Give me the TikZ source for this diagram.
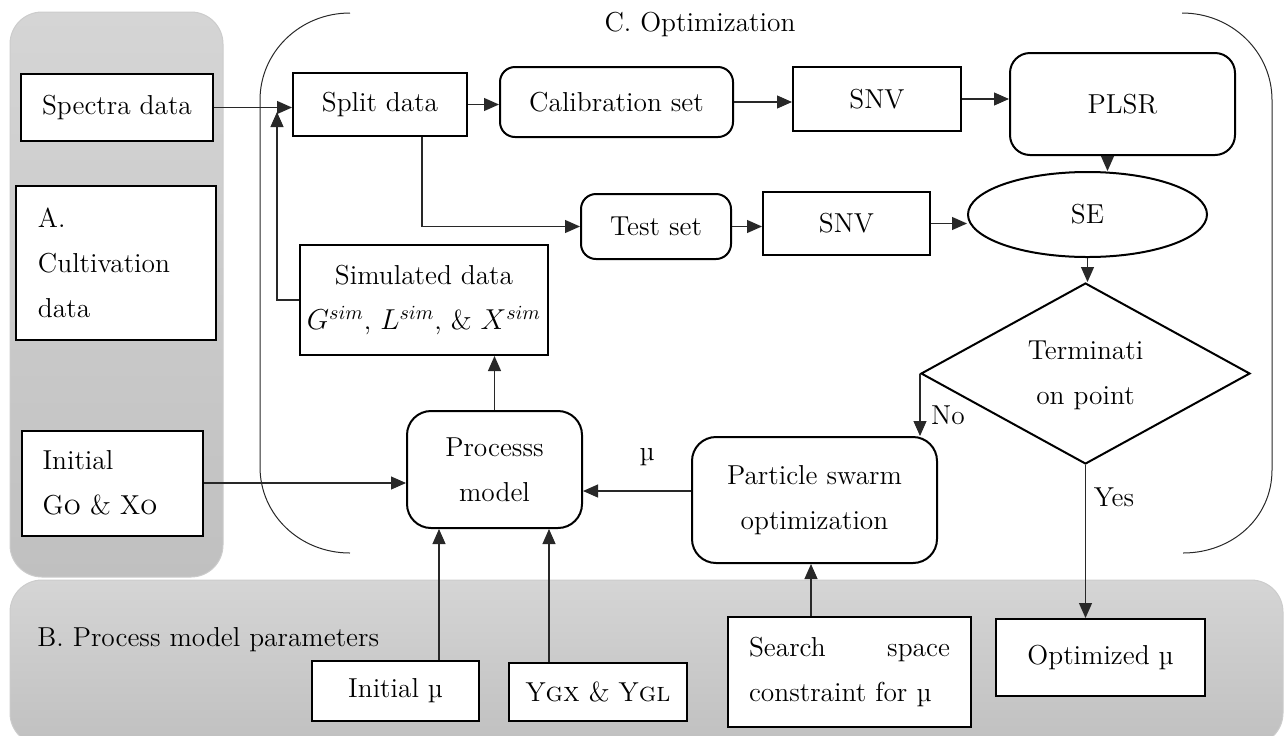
\documentclass[tikz,border=0pt]{standalone}
\usetikzlibrary{shapes.geometric,arrows.meta}
\definecolor{panelTop}{RGB}{213,213,213}
\definecolor{panelBot}{RGB}{192,192,192}
\definecolor{lineC}{RGB}{40,40,40}
\begin{document}
\begin{tikzpicture}[x=0.5pt,y=-0.5pt,
  font=\fontsize{13.7}{22.5}\selectfont,
  box/.style={draw, line width=1pt, fill=white, inner sep=0pt, align=center},
  rbox/.style={box, rounded corners=7.5pt},
  arr/.style={draw=lineC, line width=0.55pt, -{Triangle[length=7.5pt,width=6.5pt]}},
  panel/.style={rounded corners=16pt, top color=panelTop, bottom color=panelBot, draw=gray!40, line width=0.5pt},
  bracket/.style={draw=lineC, line width=0.5pt},
  lbl/.style={inner sep=0pt}]
\useasboundingbox (0,0) rectangle (1285,735);
% panels
\path[panel] (10,12) rectangle (223,577);
\path[panel] (10,580) rectangle (1283,745);
% optimization brackets
\draw[bracket] (350,13) .. controls (300,13) and (260,52) .. (260,100) -- (260,467) .. controls (260,515) and (300,553) .. (350,553);
\draw[bracket] (1182,13) .. controls (1232,13) and (1272,52) .. (1272,100) -- (1272,470) .. controls (1272,518) and (1232,553) .. (1183,553);
\node[lbl] (ctitle) at (700,25) {C. Optimization};
\node[lbl, anchor=west] (btitle) at (37,640) {B. Process model parameters};
% nodes
\node[box, minimum width=96pt, minimum height=33.5pt] (spectra) at (117,107.5) {Spectra data};
\node[box, minimum width=100pt, minimum height=77pt, text width=78pt, align=left] (cult) at (116,263) {A.\\Cultivation\\data};
\node[box, minimum width=87pt, minimum height=31.5pt] (split) at (380,104.5) {Split data};
\node[rbox, minimum width=116.5pt, minimum height=35pt] (calib) at (616.5,102) {Calibration set};
\node[box, minimum width=84pt, minimum height=32pt] (snva) at (877,99) {SNV};
\node[rbox, rounded corners=10pt, minimum width=112.5pt, minimum height=51pt] (plsr) at (1122.5,104) {PLSR};
\node[rbox, minimum width=75pt, minimum height=32.5pt] (test) at (656,226.5) {Test set};
\node[box, minimum width=83.5pt, minimum height=31.5pt] (snvb) at (846.5,223.5) {SNV};
\node[box, ellipse, minimum width=119.5pt, minimum height=42.5pt] (se) at (1087.5,214.5) {SE};
\node[box, diamond, minimum width=164.5pt, minimum height=90.5pt] (dia) at (1085.5,373.5) {};
\node[lbl, align=center] (diatext) at (1085.5,375) {Terminati\\on point};
\node[box, minimum width=124pt, minimum height=55pt] (sim) at (424,300) {Simulated data\\$G^{sim}$, $L^{sim}$, \& $X^{sim}$};
\node[rbox, rounded corners=12pt, minimum width=87.5pt, minimum height=58.5pt] (process) at (494.5,469.5) {Processs\\model};
\node[rbox, rounded corners=12pt, minimum width=122.5pt, minimum height=63pt] (pso) at (814.5,500) {Particle swarm\\optimization};
\node[box, minimum width=90.5pt, minimum height=52.5pt, text width=70pt, align=left] (initg) at (112.5,483) {Initial\\G\textsc{o} \& X\textsc{o}};
\node[box, minimum width=83.5pt, minimum height=30pt] (initmu) at (395.5,691) {Initial \textmu};
\node[box, minimum width=89pt, minimum height=29pt] (ygx) at (598,692) {Y\textsc{gx} \& Y\textsc{gl}};
\node[box, minimum width=121.5pt, minimum height=55pt, text width=100.5pt, align=left] (search) at (849.5,672) {\makebox[100.5pt][l]{Search\hfill space}\\constraint for \textmu};
\node[box, minimum width=104.5pt, minimum height=38.5pt] (optmu) at (1100.5,657.5) {Optimized \textmu};
% labels
\node[lbl] (mulbl) at (647,457) {\textmu};
\node[lbl] (nolbl) at (948,415) {No};
\node[lbl] (yeslbl) at (1114,497) {Yes};
% connectors
\coordinate (fbtop) at (277,112);
\draw[arr] (spectra.east) -- (spectra.east -| split.west);
\draw[arr] (sim.west) -| (fbtop);
\draw[arr] (split.east) -- (split.east -| calib.west);
\draw[arr] (calib.east) -- (calib.east -| snva.west);
\draw[arr] (snva.east) -- (snva.east -| plsr.west);
\draw[arr] ([xshift=-7.5pt]plsr.south) -- ([xshift=-7.5pt]plsr.south |- se.north);
\draw[arr] ([xshift=21pt]split.south) |- (test.west);
\draw[arr] (test.east) -- (test.east -| snvb.west);
\draw[arr] (snvb.east) -- (snvb.east -| se.west);
\draw[arr] (se.south) -- (se.south |- dia.north);
\draw[arr] (dia.west) -- (dia.west |- pso.north);
\draw[arr] (dia.south) -- (dia.south |- optmu.north);
\draw[arr] ([yshift=4.5pt]pso.west) -- ([yshift=4.5pt]pso.west -| process.east);
\draw[arr] (initg.east) -- (initg.east -| process.west);
\draw[arr] (process.north) -- (process.north |- sim.south);
\draw[arr] ([xshift=21.75pt]initmu.north) -- ([xshift=21.75pt]initmu.north |- process.south);
\draw[arr] ([xshift=-24.5pt]ygx.north) -- ([xshift=-24.5pt]ygx.north |- process.south);
\draw[arr] ([xshift=-19.25pt]search.north) -- ([xshift=-19.25pt]search.north |- pso.south);
\end{tikzpicture}
\end{document}
